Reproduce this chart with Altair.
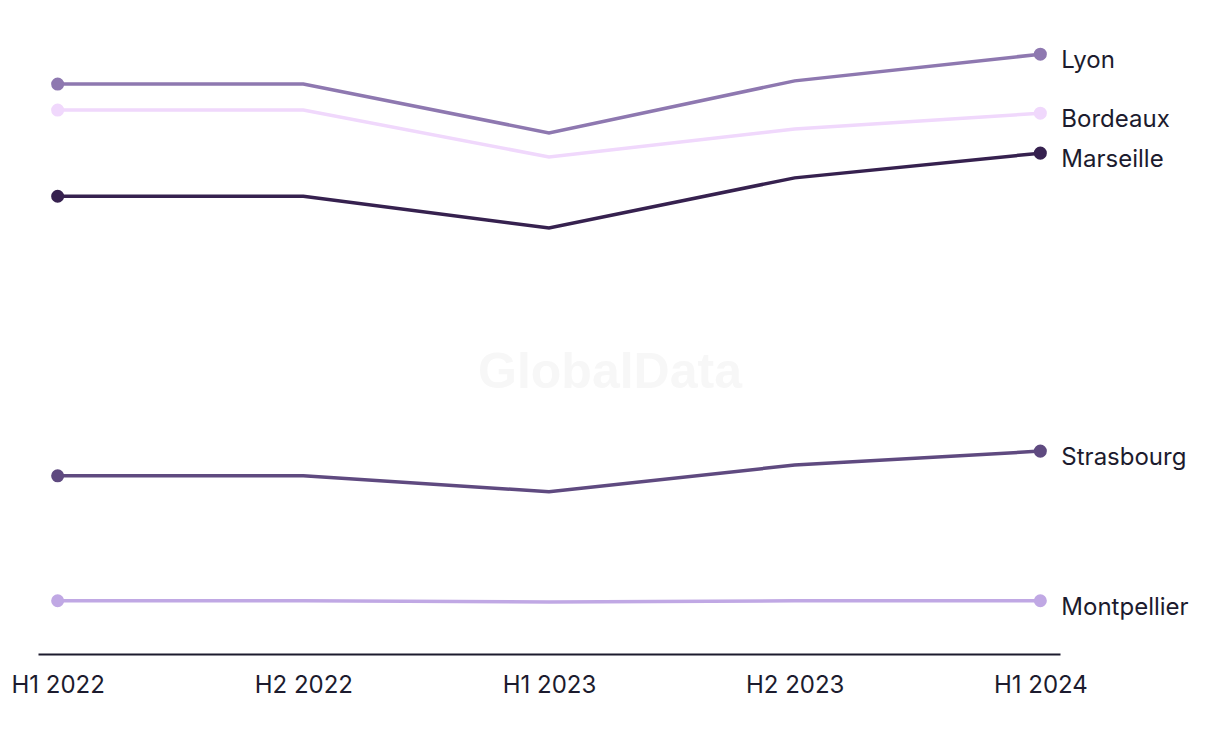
import altair as alt
import pandas as pd

periods = ["H1 2022", "H2 2022", "H1 2023", "H2 2023", "H1 2024"]
cities = ["Lyon", "Bordeaux", "Marseille", "Strasbourg", "Montpellier"]
lyon = [89.9, 89.9, 82.2, 90.4, 94.6]
bordeaux = [85.8, 85.8, 78.4, 82.8, 85.3]
marseille = [72.2, 72.2, 67.2, 75.1, 79.0]
strasbourg = [28.1, 28.1, 25.6, 29.8, 32.0]
montpellier = [8.4, 8.4, 8.2, 8.4, 8.4]
colors = ["#8e78b0", "#f0d8fc", "#36214f", "#5f4a80", "#c0a8e4"]

series = [lyon, bordeaux, marseille, strasbourg, montpellier]
rows = []
for city, vals in zip(cities, series):
    for i, (p, v) in enumerate(zip(periods, vals)):
        rows.append({"period": p, "city": city, "value": v,
                     "end": i == 0 or i == len(periods) - 1,
                     "last": i == len(periods) - 1})
df = pd.DataFrame(rows)

FONT = "Inter"
x = alt.X("period:N", sort=periods, title=None,
          scale=alt.Scale(type="point", padding=0.08),
          axis=alt.Axis(labelAngle=0, ticks=False, domainColor="#1c1b2e", domainWidth=2,
                        labelFont=FONT, labelFontSize=24, labelColor="#1c1b2e",
                        labelPadding=19, grid=False))
y = alt.Y("value:Q", scale=alt.Scale(domain=[0, 100]), axis=None)
color = alt.Color("city:N", scale=alt.Scale(domain=cities, range=colors), legend=None)

base = alt.Chart(df)
lines = base.mark_line(strokeWidth=3.5).encode(x=x, y=y, color=color, detail="city:N")
points = base.transform_filter("datum.end").mark_circle(size=170, opacity=1).encode(x=x, y=y, color=color)
labels = base.transform_filter("datum.last").mark_text(
    align="left", baseline="middle", dx=21, dy=7, font=FONT, fontSize=24, color="#1c1b2e"
).encode(x=x, y=y, text="city:N")
watermark = alt.Chart(pd.DataFrame({"t": ["GlobalData"]})).mark_text(
    font="Liberation Sans", fontSize=50, fontWeight="bold", color="#f7f7f7",
    align="center", baseline="middle"
).encode(text="t:N", x=alt.value(572), y=alt.value(353))

chart = alt.layer(watermark, lines, points, labels).properties(
    width=1022, height=634,
    background="white",
    autosize=alt.AutoSizeParams(type="none"),
    padding={"left": 30, "top": 12, "right": 150, "bottom": 60},
).configure_view(strokeWidth=0, stroke=None)

chart.save("out.html", embed_options={"renderer": "svg", "actions": False})
